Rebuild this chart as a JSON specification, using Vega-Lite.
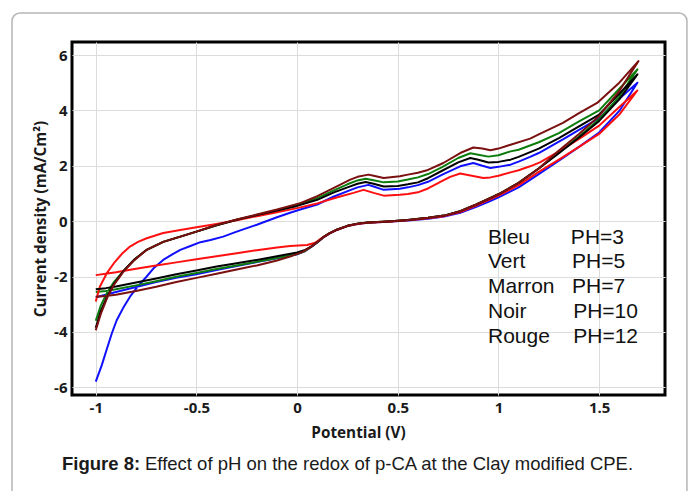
{
  "$schema": "https://vega.github.io/schema/vega-lite/v6.json",
  "width": 593,
  "height": 353,
  "autosize": "none",
  "padding": {"left": 72, "top": 42, "right": 26, "bottom": 96},
  "background": "white",
  "config": {
    "view": {"stroke": "#000", "strokeWidth": 3},
    "axis": {
      "grid": true, "gridColor": "#dcdcdc", "gridWidth": 1,
      "domain": false, "ticks": false,
      "labelFont": "Open Sans", "labelFontWeight": "bold", "labelFontSize": 15, "labelColor": "#1a1a1a",
      "titleFont": "Open Sans", "titleFontWeight": "bold", "titleFontSize": 15.3, "titleColor": "#1a1a1a"
    }
  },
  "layer": [
    {
      "data": {"values": [{"k": 1}]},
      "mark": {"type": "rect", "fill": null, "filled": false, "stroke": "#b5b5b5", "strokeWidth": 1.5, "cornerRadius": 8},
      "encoding": {
        "x": {"datum": -1.416, "type": "quantitative", "scale": {"domain": [-1.118, 1.827], "nice": false, "zero": false}},
        "x2": {"datum": 1.936},
        "y": {"datum": 7.517, "type": "quantitative", "scale": {"domain": [-6.28, 6.47], "nice": false, "zero": false}},
        "y2": {"datum": -10.43}
      }
    },
    {
      "data": {"values": [
{"s":"Bleu","i":0,"x":-1,"y":-2.75},{"s":"Bleu","i":1,"x":-0.95,"y":-2.66},{"s":"Bleu","i":2,"x":-0.9,"y":-2.56},{"s":"Bleu","i":3,"x":-0.8,"y":-2.38},{"s":"Bleu","i":4,"x":-0.7,"y":-2.2},{"s":"Bleu","i":5,"x":-0.6,"y":-2.05},{"s":"Bleu","i":6,"x":-0.5,"y":-1.92},{"s":"Bleu","i":7,"x":-0.4,"y":-1.77},{"s":"Bleu","i":8,"x":-0.3,"y":-1.62},{"s":"Bleu","i":9,"x":-0.2,"y":-1.48},{"s":"Bleu","i":10,"x":-0.1,"y":-1.34},{"s":"Bleu","i":11,"x":0,"y":-1.2},{"s":"Bleu","i":12,"x":0.04,"y":-1.08},{"s":"Bleu","i":13,"x":0.07,"y":-0.93},{"s":"Bleu","i":14,"x":0.1,"y":-0.77},{"s":"Bleu","i":15,"x":0.13,"y":-0.59},{"s":"Bleu","i":16,"x":0.16,"y":-0.45},{"s":"Bleu","i":17,"x":0.2,"y":-0.31},{"s":"Bleu","i":18,"x":0.25,"y":-0.18},{"s":"Bleu","i":19,"x":0.3,"y":-0.1},{"s":"Bleu","i":20,"x":0.35,"y":-0.06},{"s":"Bleu","i":21,"x":0.45,"y":-0.02},{"s":"Bleu","i":22,"x":0.55,"y":0.02},{"s":"Bleu","i":23,"x":0.65,"y":0.09},{"s":"Bleu","i":24,"x":0.73,"y":0.17},{"s":"Bleu","i":25,"x":0.81,"y":0.3},{"s":"Bleu","i":26,"x":0.89,"y":0.52},{"s":"Bleu","i":27,"x":0.95,"y":0.7},{"s":"Bleu","i":28,"x":1,"y":0.86},{"s":"Bleu","i":29,"x":1.1,"y":1.22},{"s":"Bleu","i":30,"x":1.2,"y":1.7},{"s":"Bleu","i":31,"x":1.3,"y":2.18},{"s":"Bleu","i":32,"x":1.4,"y":2.68},{"s":"Bleu","i":33,"x":1.5,"y":3.2},{"s":"Bleu","i":34,"x":1.6,"y":3.98},{"s":"Bleu","i":35,"x":1.69,"y":5},{"s":"Bleu","i":36,"x":1.6,"y":4.42},{"s":"Bleu","i":37,"x":1.5,"y":3.72},{"s":"Bleu","i":38,"x":1.4,"y":3.3},{"s":"Bleu","i":39,"x":1.32,"y":2.95},{"s":"Bleu","i":40,"x":1.2,"y":2.46},{"s":"Bleu","i":41,"x":1.157,"y":2.32},{"s":"Bleu","i":42,"x":1.1,"y":2.15},{"s":"Bleu","i":43,"x":1.06,"y":2.04},{"s":"Bleu","i":44,"x":1,"y":1.96},{"s":"Bleu","i":45,"x":0.96,"y":1.92},{"s":"Bleu","i":46,"x":0.92,"y":2},{"s":"Bleu","i":47,"x":0.875,"y":2.1},{"s":"Bleu","i":48,"x":0.81,"y":1.98},{"s":"Bleu","i":49,"x":0.726,"y":1.7},{"s":"Bleu","i":50,"x":0.65,"y":1.42},{"s":"Bleu","i":51,"x":0.6,"y":1.3},{"s":"Bleu","i":52,"x":0.55,"y":1.22},{"s":"Bleu","i":53,"x":0.51,"y":1.17},{"s":"Bleu","i":54,"x":0.43,"y":1.13},{"s":"Bleu","i":55,"x":0.38,"y":1.25},{"s":"Bleu","i":56,"x":0.354,"y":1.31},{"s":"Bleu","i":57,"x":0.3,"y":1.22},{"s":"Bleu","i":58,"x":0.264,"y":1.12},{"s":"Bleu","i":59,"x":0.18,"y":0.88},{"s":"Bleu","i":60,"x":0.1,"y":0.6},{"s":"Bleu","i":61,"x":0.016,"y":0.42},{"s":"Bleu","i":62,"x":-0.035,"y":0.3},{"s":"Bleu","i":63,"x":-0.1,"y":0.14},{"s":"Bleu","i":64,"x":-0.2,"y":-0.13},{"s":"Bleu","i":65,"x":-0.3,"y":-0.38},{"s":"Bleu","i":66,"x":-0.367,"y":-0.56},{"s":"Bleu","i":67,"x":-0.43,"y":-0.68},{"s":"Bleu","i":68,"x":-0.48,"y":-0.76},{"s":"Bleu","i":69,"x":-0.53,"y":-0.9},{"s":"Bleu","i":70,"x":-0.58,"y":-1.04},{"s":"Bleu","i":71,"x":-0.62,"y":-1.2},{"s":"Bleu","i":72,"x":-0.665,"y":-1.4},{"s":"Bleu","i":73,"x":-0.71,"y":-1.68},{"s":"Bleu","i":74,"x":-0.747,"y":-2},{"s":"Bleu","i":75,"x":-0.79,"y":-2.35},{"s":"Bleu","i":76,"x":-0.83,"y":-2.73},{"s":"Bleu","i":77,"x":-0.865,"y":-3.15},{"s":"Bleu","i":78,"x":-0.896,"y":-3.58},{"s":"Bleu","i":79,"x":-0.92,"y":-4.05},{"s":"Bleu","i":80,"x":-0.945,"y":-4.62},{"s":"Bleu","i":81,"x":-0.97,"y":-5.2},{"s":"Bleu","i":82,"x":-1,"y":-5.8},
{"s":"Vert","i":0,"x":-1,"y":-2.56},{"s":"Vert","i":1,"x":-0.95,"y":-2.52},{"s":"Vert","i":2,"x":-0.9,"y":-2.46},{"s":"Vert","i":3,"x":-0.8,"y":-2.32},{"s":"Vert","i":4,"x":-0.7,"y":-2.17},{"s":"Vert","i":5,"x":-0.6,"y":-2.01},{"s":"Vert","i":6,"x":-0.5,"y":-1.87},{"s":"Vert","i":7,"x":-0.4,"y":-1.73},{"s":"Vert","i":8,"x":-0.3,"y":-1.6},{"s":"Vert","i":9,"x":-0.2,"y":-1.47},{"s":"Vert","i":10,"x":-0.1,"y":-1.33},{"s":"Vert","i":11,"x":0,"y":-1.19},{"s":"Vert","i":12,"x":0.04,"y":-1.08},{"s":"Vert","i":13,"x":0.07,"y":-0.92},{"s":"Vert","i":14,"x":0.1,"y":-0.76},{"s":"Vert","i":15,"x":0.13,"y":-0.58},{"s":"Vert","i":16,"x":0.16,"y":-0.44},{"s":"Vert","i":17,"x":0.2,"y":-0.3},{"s":"Vert","i":18,"x":0.25,"y":-0.17},{"s":"Vert","i":19,"x":0.3,"y":-0.09},{"s":"Vert","i":20,"x":0.35,"y":-0.05},{"s":"Vert","i":21,"x":0.45,"y":-0.01},{"s":"Vert","i":22,"x":0.55,"y":0.04},{"s":"Vert","i":23,"x":0.65,"y":0.12},{"s":"Vert","i":24,"x":0.73,"y":0.2},{"s":"Vert","i":25,"x":0.81,"y":0.36},{"s":"Vert","i":26,"x":0.89,"y":0.6},{"s":"Vert","i":27,"x":0.95,"y":0.8},{"s":"Vert","i":28,"x":1,"y":0.97},{"s":"Vert","i":29,"x":1.1,"y":1.38},{"s":"Vert","i":30,"x":1.2,"y":1.9},{"s":"Vert","i":31,"x":1.3,"y":2.48},{"s":"Vert","i":32,"x":1.4,"y":3.06},{"s":"Vert","i":33,"x":1.5,"y":3.68},{"s":"Vert","i":34,"x":1.6,"y":4.5},{"s":"Vert","i":35,"x":1.69,"y":5.48},{"s":"Vert","i":36,"x":1.6,"y":4.78},{"s":"Vert","i":37,"x":1.5,"y":4},{"s":"Vert","i":38,"x":1.4,"y":3.6},{"s":"Vert","i":39,"x":1.3,"y":3.18},{"s":"Vert","i":40,"x":1.2,"y":2.85},{"s":"Vert","i":41,"x":1.1,"y":2.58},{"s":"Vert","i":42,"x":1.06,"y":2.52},{"s":"Vert","i":43,"x":1,"y":2.38},{"s":"Vert","i":44,"x":0.95,"y":2.33},{"s":"Vert","i":45,"x":0.9,"y":2.4},{"s":"Vert","i":46,"x":0.86,"y":2.45},{"s":"Vert","i":47,"x":0.8,"y":2.28},{"s":"Vert","i":48,"x":0.72,"y":1.95},{"s":"Vert","i":49,"x":0.65,"y":1.7},{"s":"Vert","i":50,"x":0.6,"y":1.58},{"s":"Vert","i":51,"x":0.55,"y":1.5},{"s":"Vert","i":52,"x":0.5,"y":1.43},{"s":"Vert","i":53,"x":0.43,"y":1.4},{"s":"Vert","i":54,"x":0.38,"y":1.48},{"s":"Vert","i":55,"x":0.34,"y":1.53},{"s":"Vert","i":56,"x":0.3,"y":1.47},{"s":"Vert","i":57,"x":0.25,"y":1.33},{"s":"Vert","i":58,"x":0.18,"y":1.1},{"s":"Vert","i":59,"x":0.1,"y":0.83},{"s":"Vert","i":60,"x":0,"y":0.6},{"s":"Vert","i":61,"x":-0.1,"y":0.38},{"s":"Vert","i":62,"x":-0.2,"y":0.22},{"s":"Vert","i":63,"x":-0.3,"y":0.05},{"s":"Vert","i":64,"x":-0.4,"y":-0.15},{"s":"Vert","i":65,"x":-0.5,"y":-0.38},{"s":"Vert","i":66,"x":-0.58,"y":-0.56},{"s":"Vert","i":67,"x":-0.665,"y":-0.75},{"s":"Vert","i":68,"x":-0.75,"y":-1.05},{"s":"Vert","i":69,"x":-0.81,"y":-1.4},{"s":"Vert","i":70,"x":-0.86,"y":-1.78},{"s":"Vert","i":71,"x":-0.91,"y":-2.2},{"s":"Vert","i":72,"x":-0.945,"y":-2.6},{"s":"Vert","i":73,"x":-0.975,"y":-3.05},{"s":"Vert","i":74,"x":-1,"y":-3.6},
{"s":"Rouge","i":0,"x":-1,"y":-1.95},{"s":"Rouge","i":1,"x":-0.95,"y":-1.9},{"s":"Rouge","i":2,"x":-0.9,"y":-1.85},{"s":"Rouge","i":3,"x":-0.8,"y":-1.72},{"s":"Rouge","i":4,"x":-0.7,"y":-1.6},{"s":"Rouge","i":5,"x":-0.6,"y":-1.49},{"s":"Rouge","i":6,"x":-0.5,"y":-1.38},{"s":"Rouge","i":7,"x":-0.4,"y":-1.27},{"s":"Rouge","i":8,"x":-0.3,"y":-1.16},{"s":"Rouge","i":9,"x":-0.2,"y":-1.05},{"s":"Rouge","i":10,"x":-0.1,"y":-0.95},{"s":"Rouge","i":11,"x":-0.035,"y":-0.9},{"s":"Rouge","i":12,"x":0.05,"y":-0.86},{"s":"Rouge","i":13,"x":0.09,"y":-0.78},{"s":"Rouge","i":14,"x":0.12,"y":-0.62},{"s":"Rouge","i":15,"x":0.16,"y":-0.45},{"s":"Rouge","i":16,"x":0.2,"y":-0.31},{"s":"Rouge","i":17,"x":0.25,"y":-0.18},{"s":"Rouge","i":18,"x":0.3,"y":-0.1},{"s":"Rouge","i":19,"x":0.35,"y":-0.06},{"s":"Rouge","i":20,"x":0.45,"y":-0.02},{"s":"Rouge","i":21,"x":0.55,"y":0.03},{"s":"Rouge","i":22,"x":0.65,"y":0.1},{"s":"Rouge","i":23,"x":0.73,"y":0.18},{"s":"Rouge","i":24,"x":0.81,"y":0.33},{"s":"Rouge","i":25,"x":0.89,"y":0.56},{"s":"Rouge","i":26,"x":0.95,"y":0.76},{"s":"Rouge","i":27,"x":1,"y":0.92},{"s":"Rouge","i":28,"x":1.1,"y":1.3},{"s":"Rouge","i":29,"x":1.2,"y":1.78},{"s":"Rouge","i":30,"x":1.3,"y":2.22},{"s":"Rouge","i":31,"x":1.4,"y":2.68},{"s":"Rouge","i":32,"x":1.5,"y":3.15},{"s":"Rouge","i":33,"x":1.6,"y":3.85},{"s":"Rouge","i":34,"x":1.69,"y":4.72},{"s":"Rouge","i":35,"x":1.6,"y":4.12},{"s":"Rouge","i":36,"x":1.5,"y":3.45},{"s":"Rouge","i":37,"x":1.4,"y":2.97},{"s":"Rouge","i":38,"x":1.32,"y":2.6},{"s":"Rouge","i":39,"x":1.206,"y":2.12},{"s":"Rouge","i":40,"x":1.157,"y":1.98},{"s":"Rouge","i":41,"x":1.1,"y":1.84},{"s":"Rouge","i":42,"x":1.06,"y":1.76},{"s":"Rouge","i":43,"x":1,"y":1.64},{"s":"Rouge","i":44,"x":0.96,"y":1.58},{"s":"Rouge","i":45,"x":0.925,"y":1.56},{"s":"Rouge","i":46,"x":0.88,"y":1.62},{"s":"Rouge","i":47,"x":0.81,"y":1.72},{"s":"Rouge","i":48,"x":0.76,"y":1.6},{"s":"Rouge","i":49,"x":0.726,"y":1.47},{"s":"Rouge","i":50,"x":0.65,"y":1.18},{"s":"Rouge","i":51,"x":0.6,"y":1.04},{"s":"Rouge","i":52,"x":0.55,"y":0.98},{"s":"Rouge","i":53,"x":0.51,"y":0.95},{"s":"Rouge","i":54,"x":0.43,"y":0.92},{"s":"Rouge","i":55,"x":0.38,"y":1.02},{"s":"Rouge","i":56,"x":0.33,"y":1.13},{"s":"Rouge","i":57,"x":0.28,"y":1.02},{"s":"Rouge","i":58,"x":0.2,"y":0.86},{"s":"Rouge","i":59,"x":0.1,"y":0.64},{"s":"Rouge","i":60,"x":0,"y":0.47},{"s":"Rouge","i":61,"x":-0.1,"y":0.32},{"s":"Rouge","i":62,"x":-0.2,"y":0.18},{"s":"Rouge","i":63,"x":-0.3,"y":0.03},{"s":"Rouge","i":64,"x":-0.4,"y":-0.1},{"s":"Rouge","i":65,"x":-0.5,"y":-0.22},{"s":"Rouge","i":66,"x":-0.58,"y":-0.32},{"s":"Rouge","i":67,"x":-0.665,"y":-0.43},{"s":"Rouge","i":68,"x":-0.747,"y":-0.62},{"s":"Rouge","i":69,"x":-0.79,"y":-0.75},{"s":"Rouge","i":70,"x":-0.83,"y":-0.92},{"s":"Rouge","i":71,"x":-0.87,"y":-1.18},{"s":"Rouge","i":72,"x":-0.91,"y":-1.52},{"s":"Rouge","i":73,"x":-0.945,"y":-1.88},{"s":"Rouge","i":74,"x":-0.98,"y":-2.37},{"s":"Rouge","i":75,"x":-1,"y":-2.9},
{"s":"Noir","i":0,"x":-1,"y":-2.46},{"s":"Noir","i":1,"x":-0.95,"y":-2.42},{"s":"Noir","i":2,"x":-0.9,"y":-2.36},{"s":"Noir","i":3,"x":-0.8,"y":-2.22},{"s":"Noir","i":4,"x":-0.7,"y":-2.07},{"s":"Noir","i":5,"x":-0.6,"y":-1.92},{"s":"Noir","i":6,"x":-0.5,"y":-1.78},{"s":"Noir","i":7,"x":-0.4,"y":-1.64},{"s":"Noir","i":8,"x":-0.3,"y":-1.52},{"s":"Noir","i":9,"x":-0.2,"y":-1.4},{"s":"Noir","i":10,"x":-0.1,"y":-1.27},{"s":"Noir","i":11,"x":0,"y":-1.13},{"s":"Noir","i":12,"x":0.04,"y":-1.04},{"s":"Noir","i":13,"x":0.07,"y":-0.92},{"s":"Noir","i":14,"x":0.1,"y":-0.76},{"s":"Noir","i":15,"x":0.13,"y":-0.58},{"s":"Noir","i":16,"x":0.16,"y":-0.44},{"s":"Noir","i":17,"x":0.2,"y":-0.3},{"s":"Noir","i":18,"x":0.25,"y":-0.17},{"s":"Noir","i":19,"x":0.3,"y":-0.09},{"s":"Noir","i":20,"x":0.35,"y":-0.05},{"s":"Noir","i":21,"x":0.45,"y":-0.01},{"s":"Noir","i":22,"x":0.55,"y":0.04},{"s":"Noir","i":23,"x":0.65,"y":0.12},{"s":"Noir","i":24,"x":0.73,"y":0.2},{"s":"Noir","i":25,"x":0.81,"y":0.36},{"s":"Noir","i":26,"x":0.89,"y":0.6},{"s":"Noir","i":27,"x":0.95,"y":0.8},{"s":"Noir","i":28,"x":1,"y":0.97},{"s":"Noir","i":29,"x":1.1,"y":1.38},{"s":"Noir","i":30,"x":1.2,"y":1.9},{"s":"Noir","i":31,"x":1.3,"y":2.45},{"s":"Noir","i":32,"x":1.4,"y":3.02},{"s":"Noir","i":33,"x":1.5,"y":3.62},{"s":"Noir","i":34,"x":1.6,"y":4.4},{"s":"Noir","i":35,"x":1.69,"y":5.3},{"s":"Noir","i":36,"x":1.6,"y":4.6},{"s":"Noir","i":37,"x":1.5,"y":3.85},{"s":"Noir","i":38,"x":1.4,"y":3.42},{"s":"Noir","i":39,"x":1.3,"y":3},{"s":"Noir","i":40,"x":1.2,"y":2.62},{"s":"Noir","i":41,"x":1.1,"y":2.32},{"s":"Noir","i":42,"x":1.06,"y":2.22},{"s":"Noir","i":43,"x":1,"y":2.14},{"s":"Noir","i":44,"x":0.95,"y":2.12},{"s":"Noir","i":45,"x":0.9,"y":2.22},{"s":"Noir","i":46,"x":0.86,"y":2.28},{"s":"Noir","i":47,"x":0.8,"y":2.12},{"s":"Noir","i":48,"x":0.72,"y":1.82},{"s":"Noir","i":49,"x":0.65,"y":1.55},{"s":"Noir","i":50,"x":0.6,"y":1.4},{"s":"Noir","i":51,"x":0.55,"y":1.33},{"s":"Noir","i":52,"x":0.5,"y":1.27},{"s":"Noir","i":53,"x":0.43,"y":1.25},{"s":"Noir","i":54,"x":0.38,"y":1.35},{"s":"Noir","i":55,"x":0.34,"y":1.41},{"s":"Noir","i":56,"x":0.3,"y":1.35},{"s":"Noir","i":57,"x":0.25,"y":1.22},{"s":"Noir","i":58,"x":0.18,"y":1.03},{"s":"Noir","i":59,"x":0.1,"y":0.77},{"s":"Noir","i":60,"x":0,"y":0.55},{"s":"Noir","i":61,"x":-0.1,"y":0.38},{"s":"Noir","i":62,"x":-0.2,"y":0.22},{"s":"Noir","i":63,"x":-0.3,"y":0.05},{"s":"Noir","i":64,"x":-0.4,"y":-0.15},{"s":"Noir","i":65,"x":-0.5,"y":-0.38},{"s":"Noir","i":66,"x":-0.58,"y":-0.56},{"s":"Noir","i":67,"x":-0.665,"y":-0.75},{"s":"Noir","i":68,"x":-0.75,"y":-1.05},{"s":"Noir","i":69,"x":-0.81,"y":-1.4},{"s":"Noir","i":70,"x":-0.86,"y":-1.78},{"s":"Noir","i":71,"x":-0.91,"y":-2.27},{"s":"Noir","i":72,"x":-0.945,"y":-2.75},{"s":"Noir","i":73,"x":-0.975,"y":-3.25},{"s":"Noir","i":74,"x":-1,"y":-3.85},
{"s":"Marron","i":0,"x":-1,"y":-2.73},{"s":"Marron","i":1,"x":-0.95,"y":-2.7},{"s":"Marron","i":2,"x":-0.9,"y":-2.66},{"s":"Marron","i":3,"x":-0.8,"y":-2.52},{"s":"Marron","i":4,"x":-0.7,"y":-2.37},{"s":"Marron","i":5,"x":-0.6,"y":-2.2},{"s":"Marron","i":6,"x":-0.5,"y":-2.05},{"s":"Marron","i":7,"x":-0.4,"y":-1.9},{"s":"Marron","i":8,"x":-0.3,"y":-1.75},{"s":"Marron","i":9,"x":-0.2,"y":-1.6},{"s":"Marron","i":10,"x":-0.1,"y":-1.42},{"s":"Marron","i":11,"x":-0.035,"y":-1.28},{"s":"Marron","i":12,"x":0.03,"y":-1.1},{"s":"Marron","i":13,"x":0.07,"y":-0.92},{"s":"Marron","i":14,"x":0.1,"y":-0.76},{"s":"Marron","i":15,"x":0.13,"y":-0.58},{"s":"Marron","i":16,"x":0.16,"y":-0.44},{"s":"Marron","i":17,"x":0.2,"y":-0.3},{"s":"Marron","i":18,"x":0.25,"y":-0.17},{"s":"Marron","i":19,"x":0.3,"y":-0.09},{"s":"Marron","i":20,"x":0.35,"y":-0.05},{"s":"Marron","i":21,"x":0.45,"y":-0.01},{"s":"Marron","i":22,"x":0.55,"y":0.04},{"s":"Marron","i":23,"x":0.65,"y":0.12},{"s":"Marron","i":24,"x":0.73,"y":0.2},{"s":"Marron","i":25,"x":0.81,"y":0.36},{"s":"Marron","i":26,"x":0.89,"y":0.6},{"s":"Marron","i":27,"x":0.95,"y":0.8},{"s":"Marron","i":28,"x":1,"y":0.97},{"s":"Marron","i":29,"x":1.1,"y":1.38},{"s":"Marron","i":30,"x":1.2,"y":1.9},{"s":"Marron","i":31,"x":1.3,"y":2.55},{"s":"Marron","i":32,"x":1.4,"y":3.15},{"s":"Marron","i":33,"x":1.5,"y":3.8},{"s":"Marron","i":34,"x":1.6,"y":4.7},{"s":"Marron","i":35,"x":1.695,"y":5.78},{"s":"Marron","i":36,"x":1.6,"y":5},{"s":"Marron","i":37,"x":1.49,"y":4.27},{"s":"Marron","i":38,"x":1.4,"y":3.9},{"s":"Marron","i":39,"x":1.32,"y":3.55},{"s":"Marron","i":40,"x":1.2,"y":3.13},{"s":"Marron","i":41,"x":1.157,"y":2.98},{"s":"Marron","i":42,"x":1.06,"y":2.76},{"s":"Marron","i":43,"x":1,"y":2.62},{"s":"Marron","i":44,"x":0.96,"y":2.56},{"s":"Marron","i":45,"x":0.92,"y":2.62},{"s":"Marron","i":46,"x":0.875,"y":2.66},{"s":"Marron","i":47,"x":0.81,"y":2.46},{"s":"Marron","i":48,"x":0.726,"y":2.1},{"s":"Marron","i":49,"x":0.65,"y":1.85},{"s":"Marron","i":50,"x":0.6,"y":1.75},{"s":"Marron","i":51,"x":0.55,"y":1.68},{"s":"Marron","i":52,"x":0.51,"y":1.62},{"s":"Marron","i":53,"x":0.43,"y":1.56},{"s":"Marron","i":54,"x":0.38,"y":1.64},{"s":"Marron","i":55,"x":0.354,"y":1.68},{"s":"Marron","i":56,"x":0.3,"y":1.6},{"s":"Marron","i":57,"x":0.264,"y":1.5},{"s":"Marron","i":58,"x":0.18,"y":1.19},{"s":"Marron","i":59,"x":0.1,"y":0.9},{"s":"Marron","i":60,"x":0.016,"y":0.65},{"s":"Marron","i":61,"x":-0.1,"y":0.42},{"s":"Marron","i":62,"x":-0.2,"y":0.24},{"s":"Marron","i":63,"x":-0.3,"y":0.06},{"s":"Marron","i":64,"x":-0.4,"y":-0.14},{"s":"Marron","i":65,"x":-0.5,"y":-0.38},{"s":"Marron","i":66,"x":-0.58,"y":-0.56},{"s":"Marron","i":67,"x":-0.665,"y":-0.75},{"s":"Marron","i":68,"x":-0.75,"y":-1.05},{"s":"Marron","i":69,"x":-0.81,"y":-1.42},{"s":"Marron","i":70,"x":-0.86,"y":-1.8},{"s":"Marron","i":71,"x":-0.91,"y":-2.3},{"s":"Marron","i":72,"x":-0.945,"y":-2.8},{"s":"Marron","i":73,"x":-0.975,"y":-3.35},{"s":"Marron","i":74,"x":-1,"y":-3.94}
      ]},
      "mark": {"type": "line", "strokeWidth": 2, "strokeJoin": "round"},
      "encoding": {
        "x": {"field": "x", "type": "quantitative",
          "scale": {"domain": [-1.118, 1.827], "nice": false, "zero": false},
          "axis": {"values": [-1, -0.5, 0, 0.5, 1, 1.5], "labelExpr": "'' + datum.value", "labelPadding": 5, "title": "Potential (V)", "titlePadding": 10, "titleX": 286}},
        "y": {"field": "y", "type": "quantitative",
          "scale": {"domain": [-6.28, 6.47], "nice": false, "zero": false},
          "axis": {"values": [-6, -4, -2, 0, 2, 4, 6], "labelExpr": "'' + datum.value", "labelPadding": 5, "title": "Current density (mA/Cm²)", "titlePadding": 5}},
        "order": {"field": "i", "type": "quantitative"},
        "color": {"field": "s", "type": "nominal",
          "scale": {"domain": ["Bleu", "Vert", "Marron", "Noir", "Rouge"], "range": ["#1010ff", "#0c7d0c", "#7a1010", "#000000", "#ff1010"]},
          "legend": {
            "orient": "none", "legendX": 393, "legendY": 185, "title": null, "padding": 0,
            "symbolSize": 0, "symbolOpacity": 0, "symbolStrokeWidth": 0, "labelOffset": 2,
            "labelFont": "Liberation Sans", "labelFontSize": 21, "labelColor": "#111", "labelLimit": 300, "rowPadding": 2.8,
            "labelExpr": "datum.label == 'Bleu' ? 'Bleu\u00a0\u00a0\u00a0\u00a0\u00a0\u00a0\u00a0PH=3' : datum.label == 'Vert' ? 'Vert\u00a0\u00a0\u00a0\u00a0\u00a0\u00a0\u00a0\u00a0PH=5' : datum.label == 'Marron' ? 'Marron\u00a0\u00a0\u00a0PH=7' : datum.label == 'Noir' ? 'Noir\u00a0\u00a0\u00a0\u00a0\u00a0\u00a0\u00a0\u00a0PH=10' : 'Rouge\u00a0\u00a0\u00a0\u00a0PH=12'"
          }}
      }
    },
    {
      "data": {"values": [{"part": "Figure 8:"}]},
      "mark": {"type": "text", "font": "Liberation Sans", "fontSize": 18.5, "fontWeight": "bold", "align": "left", "baseline": "alphabetic", "color": "#1a1a1a"},
      "encoding": {
        "x": {"datum": -1.1677, "type": "quantitative"},
        "y": {"datum": -8.99, "type": "quantitative"},
        "text": {"field": "part"}
      }
    },
    {
      "data": {"values": [{"part": "Effect of pH on the redox of p-CA at the Clay modified CPE."}]},
      "mark": {"type": "text", "font": "Liberation Sans", "fontSize": 18.5, "align": "left", "baseline": "alphabetic", "color": "#1a1a1a"},
      "encoding": {
        "x": {"datum": -0.7555, "type": "quantitative"},
        "y": {"datum": -8.99, "type": "quantitative"},
        "text": {"field": "part"}
      }
    }
  ]
}
